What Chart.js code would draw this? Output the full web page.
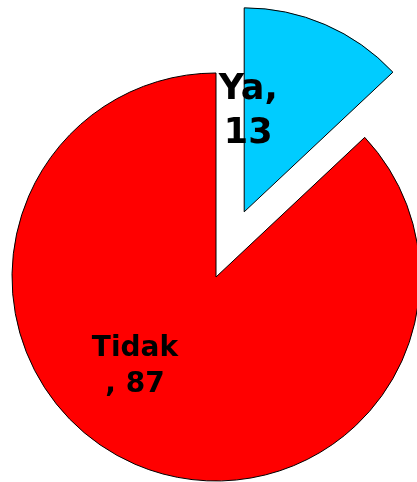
<!DOCTYPE html>
<html>
<head>
<meta charset="utf-8">
<script src="https://cdn.jsdelivr.net/npm/chart.js@4/dist/chart.umd.min.js"></script>
<style>
  html, body { margin: 0; padding: 0; background: #ffffff; }
  #wrap { width: 417px; height: 482px; position: relative; }
</style>
</head>
<body>
<div id="wrap"><canvas id="pieChart"></canvas></div>
<script>
// data
var labels = ['Ya', 'Tidak'];
var values = [13, 87];
var colors = ['#00CCFF', '#FF0000'];
// how each label wraps, as shown in the picture
var labelLines = [
    [labels[0] + ',', String(values[0])],
    [labels[1], ', ' + values[1]]
];

// pull the first slice out along its middle angle
var explodePlugin = {
    id: 'explode',
    afterDatasetsUpdate: function(chart, args, opts) {
        var meta = chart.getDatasetMeta(0);
        (opts.distance || []).forEach(function(d, i) {
            var arc = meta.data[i];
            if (!arc || !d) return;
            var mid = (arc.startAngle + arc.endAngle) / 2;
            arc.x += Math.cos(mid) * d;
            arc.y += Math.sin(mid) * d;
        });
    }
};

// data labels, placed relative to each slice's centre point
var sliceLabels = {
    id: 'sliceLabels',
    afterDatasetsDraw: function(chart, args, opts) {
        var ctx = chart.ctx;
        var meta = chart.getDatasetMeta(0);
        ctx.save();
        ctx.fillStyle = '#000000';
        ctx.textAlign = 'center';
        ctx.textBaseline = 'alphabetic';
        meta.data.forEach(function(arc, i) {
            var p = opts.place[i];
            ctx.font = 'bold ' + p.size + 'px "DejaVu Sans", Verdana, sans-serif';
            labelLines[i].forEach(function(line, j) {
                ctx.fillText(line, arc.x + p.dx, arc.y + p.dy + j * p.lineHeight);
            });
        });
        ctx.restore();
    }
};

var ctxPie = document.getElementById('pieChart');
new Chart(ctxPie, {
    type: 'pie',
    data: {
        labels: labels,
        datasets: [{
            data: values,
            backgroundColor: colors,
            borderColor: '#000000',
            borderWidth: 1
        }]
    },
    options: {
        responsive: true,
        maintainAspectRatio: false,
        animation: false,
        events: [],
        radius: 204,
        layout: {
            padding: { left: 15, top: 72, right: 0, bottom: 0 }
        },
        plugins: {
            legend: { display: false },
            tooltip: { enabled: false },
            explode: { distance: [71, 0] },
            sliceLabels: {
                place: [
                    { dx: 4, dy: -113, size: 35, lineHeight: 44 },
                    { dx: -81, dy: 79, size: 28, lineHeight: 36 }
                ]
            }
        }
    },
    plugins: [explodePlugin, sliceLabels]
});
</script>
</body>
</html>
